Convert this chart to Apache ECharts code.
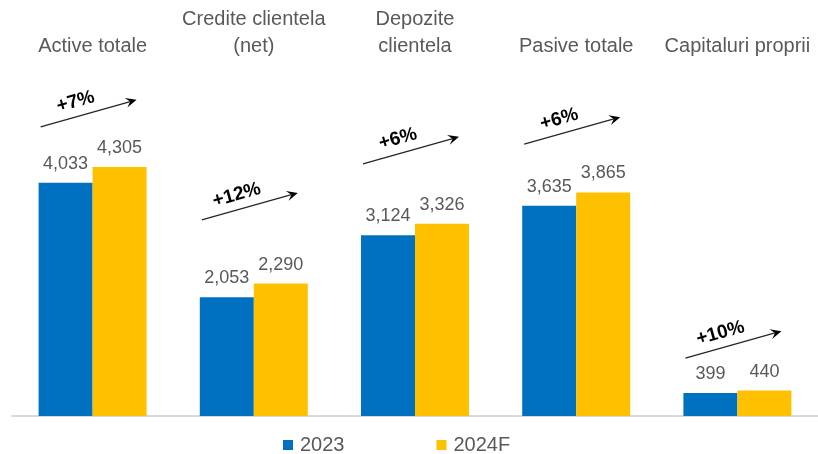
<!DOCTYPE html>
<html>
<head>
<meta charset="utf-8">
<script src="https://cdn.jsdelivr.net/npm/echarts@6/dist/echarts.min.js"></script>
<style>
  html, body { margin: 0; padding: 0; background: #fff; }
  #chart { width: 818px; height: 454px; }
</style>
</head>
<body>
<div id="chart"></div>
<script>
// date grafic
const categories = ['Active totale', 'Credite clientela\n(net)', 'Depozite\nclientela', 'Pasive totale', 'Capitaluri proprii'];
const values2023 = [4033, 2053, 3124, 3635, 399];
const values2024 = [4305, 2290, 3326, 3865, 440];
const growthLabels = ['+7%', '+12%', '+6%', '+6%', '+10%'];
// unde pornesc sagetile (in unitatile axei Y)
const arrowBase = [5000, 3390, 4360, 4700, 1000];

const FONT = '"Liberation Sans", Arial, sans-serif';
const GREY = '#595959';

const chart = echarts.init(document.getElementById('chart'));

const labelCfg = {
    show: true, position: 'top', distance: 10,
    color: GREY, fontSize: 18, fontFamily: FONT,
    formatter: p => p.value.toLocaleString('en-US')
};

chart.setOption({
    animation: false,
    backgroundColor: '#fff',
    grid: { left: 12, right: 0, top: 69, bottom: 38 },
    legend: {
        left: 283, top: 434, padding: 0, itemWidth: 10, itemHeight: 10, itemGap: 92,
        icon: 'rect',
        textStyle: { color: GREY, fontSize: 20, fontFamily: FONT, lineHeight: 22, padding: [0, 0, 0, 2] },
        data: ['2023', '2024F']
    },
    xAxis: [
        { type: 'category', data: categories, position: 'bottom',
          axisLine: { lineStyle: { color: '#d9d9d9', width: 2 } },
          axisTick: { show: false }, axisLabel: { show: false } },
        { type: 'category', data: categories, position: 'top',
          axisLine: { show: false }, axisTick: { show: false },
          axisLabel: { color: GREY, fontSize: 20, fontFamily: FONT, lineHeight: 27, margin: 9, interval: 0 } }
    ],
    yAxis: { type: 'value', min: 0, max: 6000, show: false, splitLine: { show: false } },
    series: [
        { name: '2023', type: 'bar', data: values2023, barGap: '0%', barCategoryGap: '33%',
          itemStyle: { color: '#0070C0' }, label: labelCfg },
        { name: '2024F', type: 'bar', data: values2024,
          itemStyle: { color: '#FFC000' }, label: labelCfg }
    ]
});

// sageti de crestere + procent
function drawArrows() {
    const els = [];
    growthLabels.forEach((txt, i) => {
        const p = chart.convertToPixel({ seriesIndex: 0 }, [i, arrowBase[i]]);
        const x1 = p[0] - 52, y1 = p[1];
        const x2 = p[0] + 44, y2 = p[1] - 27;
        const ang = Math.atan2(y2 - y1, x2 - x1);
        const L = 11, W = 5;
        const bx = x2 - L * Math.cos(ang), by = y2 - L * Math.sin(ang);
        const nx = -Math.sin(ang), ny = Math.cos(ang);
        const notch = [x2 - 0.6 * L * Math.cos(ang), y2 - 0.6 * L * Math.sin(ang)];
        els.push({ type: 'line', shape: { x1: x1, y1: y1, x2: notch[0], y2: notch[1] },
            style: { stroke: '#262626', lineWidth: 1.3 } });
        els.push({ type: 'polygon', shape: { points: [[x2, y2], [bx + nx * W, by + ny * W], notch, [bx - nx * W, by - ny * W]] },
            style: { fill: '#000' } });
        els.push({ type: 'text', x: x1 + 35, y: y1 - 25, rotation: -ang,
            style: { text: txt, fill: '#000', font: 'bold 19px ' + FONT, align: 'center', verticalAlign: 'middle' } });
    });
    chart.setOption({ graphic: els });
}
drawArrows();
</script>
</body>
</html>
